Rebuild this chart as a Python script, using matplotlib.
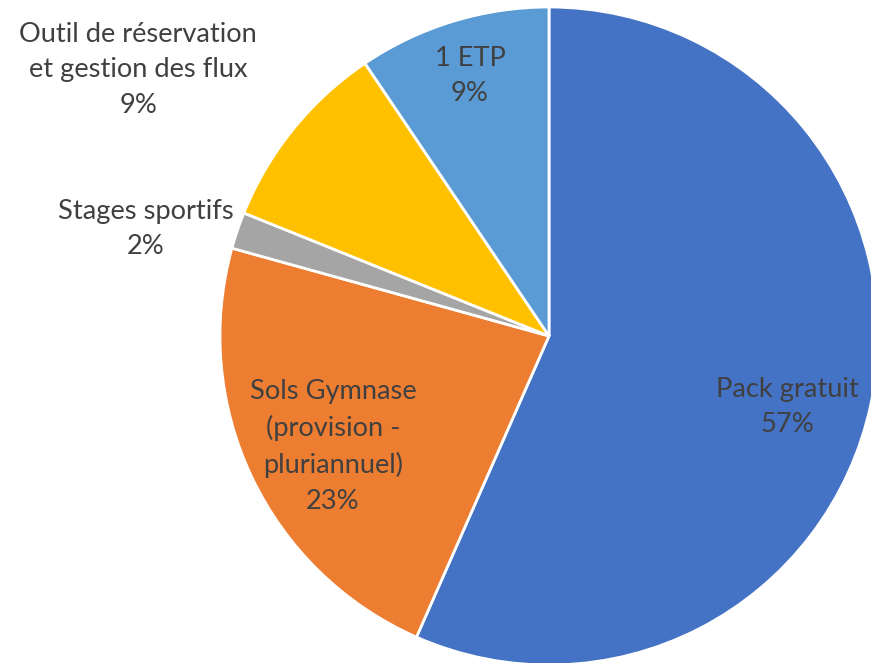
import matplotlib
matplotlib.use("Agg")
import matplotlib.pyplot as plt

categories = ["Pack gratuit", "Sols Gymnase\n(provision -\npluriannuel)", "Stages sportifs",
              "Outil de réservation\net gestion des flux", "1 ETP"]
values = [56.6, 22.7, 1.8, 9.45, 9.45]
colors = ["#4472C4", "#ED7D31", "#A5A5A5", "#FFC000", "#5B9BD5"]
# label positions (data coords, pie radius = 1)
label_pos = [(0.726, -0.215), (-0.657, -0.335), (-1.225, 0.325), (-1.249, 0.809), (-0.240, 0.790)]

plt.rcParams['font.family'] = ['Lato', 'DejaVu Sans']

W, H = 871, 663
fig = plt.figure(figsize=(W / 100, H / 100), dpi=100)
cx, cy, R = 549, 336, 329
ax = fig.add_axes([(cx - R) / W, (H - cy - R) / H, 2 * R / W, 2 * R / H])
wedges, _ = ax.pie(values, colors=colors, startangle=90, counterclock=False, radius=1,
                   wedgeprops=dict(edgecolor="white", linewidth=2))
for w in wedges:
    w.set_clip_on(False)
ax.set_xlim(-1, 1)
ax.set_ylim(-1, 1)
ax.set_aspect("equal")
ax.axis("off")

total = sum(values)
for cat, v, (x, y) in zip(categories, values, label_pos):
    ax.text(x, y, f"{cat}\n{round(v / total * 100):.0f}%", ha="center", va="center",
            fontsize=19.6, color="#404040", linespacing=1.52, clip_on=False)

fig.savefig("out.png", dpi=100)
